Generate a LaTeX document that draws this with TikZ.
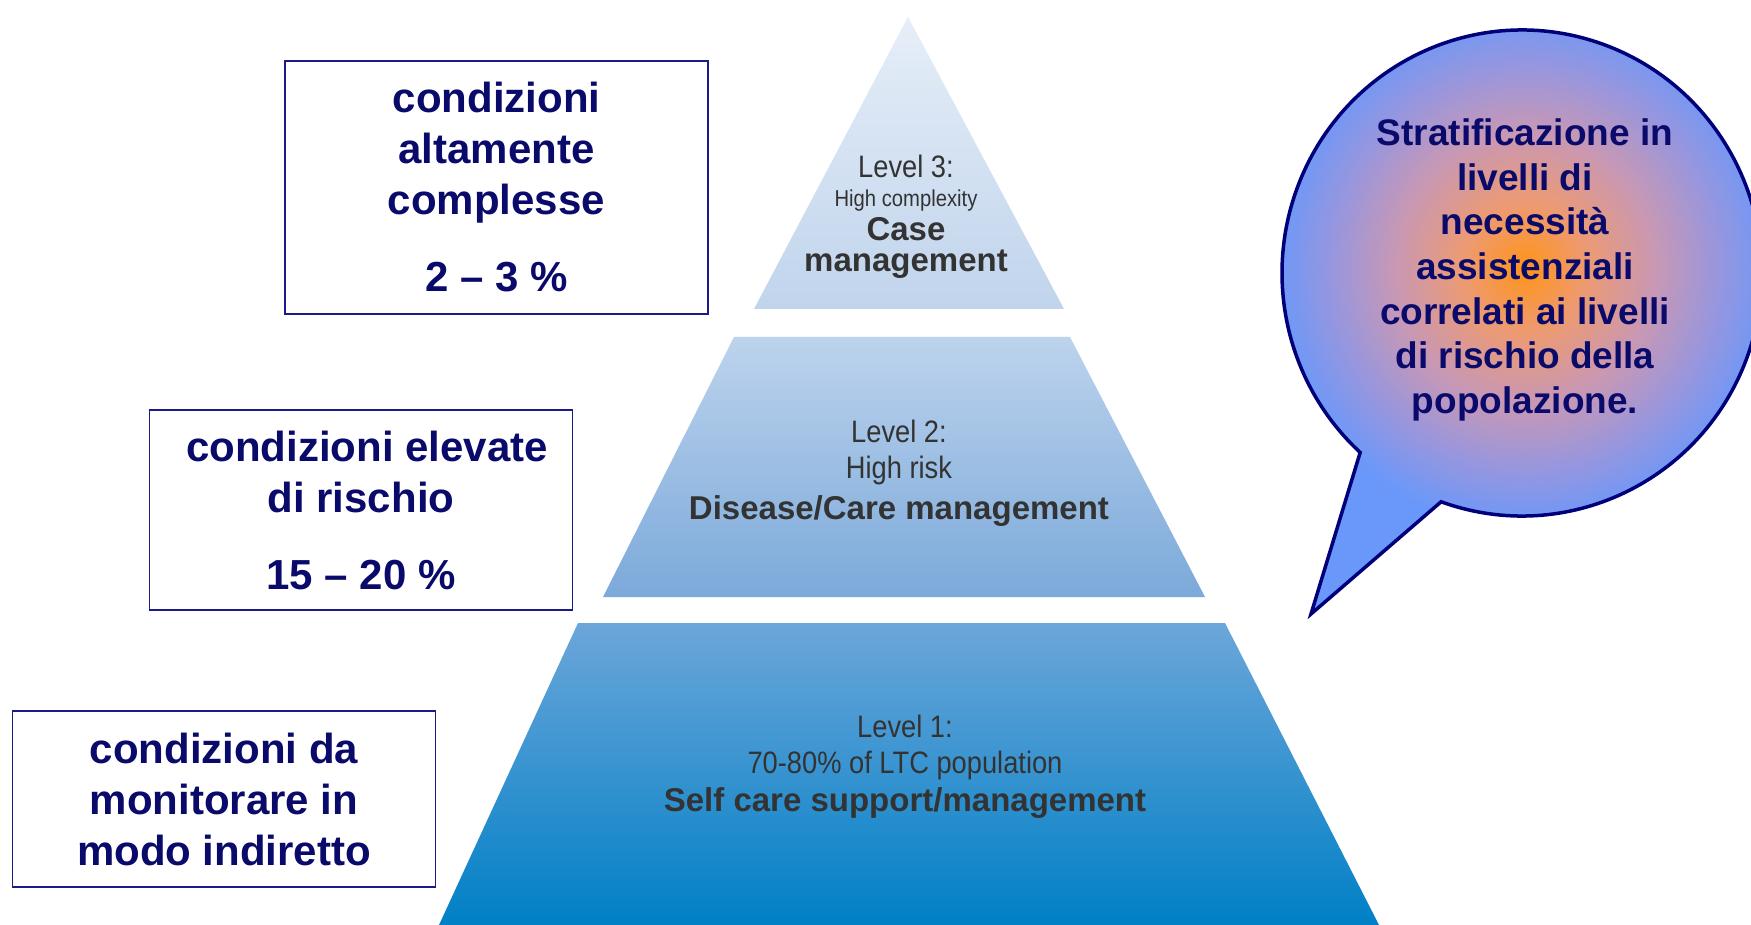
\documentclass[tikz,border=0pt]{standalone}
\usepackage{fontspec}
\setmainfont{Liberation Sans}
\newfontfamily\narrowfont[FakeStretch=0.88]{Liberation Sans}
\definecolor{navytext}{HTML}{0A0A6B}
\definecolor{boxline}{HTML}{1A1A8C}
\definecolor{bubbleline}{HTML}{00007A}
\definecolor{bubbleblue}{HTML}{6A98FA}
\definecolor{bubbleblmid}{HTML}{9A96DC}
\definecolor{bubblemid}{HTML}{C898B4}
\definecolor{bubblesalmon}{HTML}{EE9A70}
\definecolor{bubbleorange}{HTML}{FF9418}
\definecolor{pyrtext}{HTML}{333333}
\definecolor{tthreetop}{HTML}{E6EEF8}
\definecolor{tthreebot}{HTML}{C0D4EC}
\definecolor{ttwotop}{HTML}{BDD3ED}
\definecolor{ttwobot}{HTML}{7BA9DA}
\definecolor{tonetop}{HTML}{6CA6DA}
\definecolor{tonemid}{HTML}{2A8DD0}
\definecolor{tonebot}{HTML}{0080C6}
\pgfdeclareradialshading{bubbleglow}{\pgfpoint{0bp}{0bp}}{color(0bp)=(bubbleorange); color(6bp)=(bubblesalmon); color(13bp)=(bubblemid); color(19bp)=(bubbleblmid); color(25bp)=(bubbleblue); color(50bp)=(bubbleblue)}
\tikzset{
  condbox/.style={draw=boxline, line width=1.6pt, minimum width=423, minimum height=#1, inner sep=0, align=center, text=navytext, font=\fontsize{42}{51}\selectfont\bfseries},
  lvl/.style={text=pyrtext, inner sep=0, anchor=base, font=\narrowfont\fontsize{31}{36}\selectfont},
  lvlsmall/.style={text=pyrtext, inner sep=0, anchor=base, font=\narrowfont\fontsize{23}{27}\selectfont},
  lvlb/.style={text=pyrtext, inner sep=0, anchor=base, font=\bfseries\fontsize{33}{38}\selectfont},
  lvlbtwo/.style={text=pyrtext, inner sep=0, align=center, font=\bfseries\fontsize{33}{31}\selectfont},
  bubbletext/.style={inner sep=0, align=center, text=navytext, font=\fontsize{37}{44.7}\selectfont\bfseries},
}
\begin{document}
\begin{tikzpicture}[x=1pt,y=-1pt]
\useasboundingbox (0,0) rectangle (1751,925);
\fill[white] (0,0) rectangle (1751,925);

% pyramid
\shade[top color=tthreetop, bottom color=tthreebot] (908,17) -- (1064,309) -- (754,309) -- cycle;
\shade[top color=ttwotop, bottom color=ttwobot] (734,337) -- (1070,337) -- (1205,597) -- (603,597) -- cycle;
\shade[top color=tonetop, middle color=tonemid, bottom color=tonebot] (578,623) -- (1225,623) -- (1379,925) -- (439,925) -- cycle;

\node[lvl] (l3a) at (906,178) {Level 3:};
\node[lvlsmall] (l3b) at (906,207) {High complexity};
\node[lvlbtwo] (l3c) at (906,248) {Case\\management};

\node[lvl] (l2a) at (899,442) {Level 2:};
\node[lvl] (l2b) at (899,478) {High risk};
\node[lvlb] (l2c) at (899,519) {Disease/Care management};

\node[lvl] (l1a) at (905,737) {Level 1:};
\node[lvl] (l1b) at (905,773) {70-80\% of LTC population};
\node[lvlb] (l1c) at (905,811) {Self care support/management};

% boxes
\node[condbox=253] (box1) at (496.5,187.5) {condizioni\\altamente\\complesse\\[26pt]2 – 3 \%};
\node[condbox=200] (box2) at (361,510) {\hspace*{12pt}condizioni elevate\\di rischio\\[26pt]15 – 20 \%};
\node[condbox=176] (box3) at (224,799) {condizioni da\\monitorare in\\modo indiretto};

% bubble
\coordinate (bc) at (1522,273);
\coordinate (tip) at (1311,614);
\path (bc) ++(109.7:240 and 243) coordinate (tr);
\fill[bubbleblue] (tr) arc[start angle=109.7, end angle=-227.6, x radius=240, y radius=243] -- (tip) -- cycle;
\begin{scope}
\clip (tr) arc[start angle=109.7, end angle=-227.6, x radius=240, y radius=243] -- (tip) -- cycle;
\shade[shading=bubbleglow] (1525,268) ellipse[x radius=250, y radius=260];
\end{scope}
\draw[bubbleline, line width=3.5pt, line join=miter] (tr) arc[start angle=109.7, end angle=-227.6, x radius=240, y radius=243] -- (tip) -- cycle;
\node[bubbletext] (btext) at (1525,270) {Stratificazione in\\livelli di\\necessità\\assistenziali\\correlati ai livelli\\di rischio della\\popolazione.};
\end{tikzpicture}
\end{document}
